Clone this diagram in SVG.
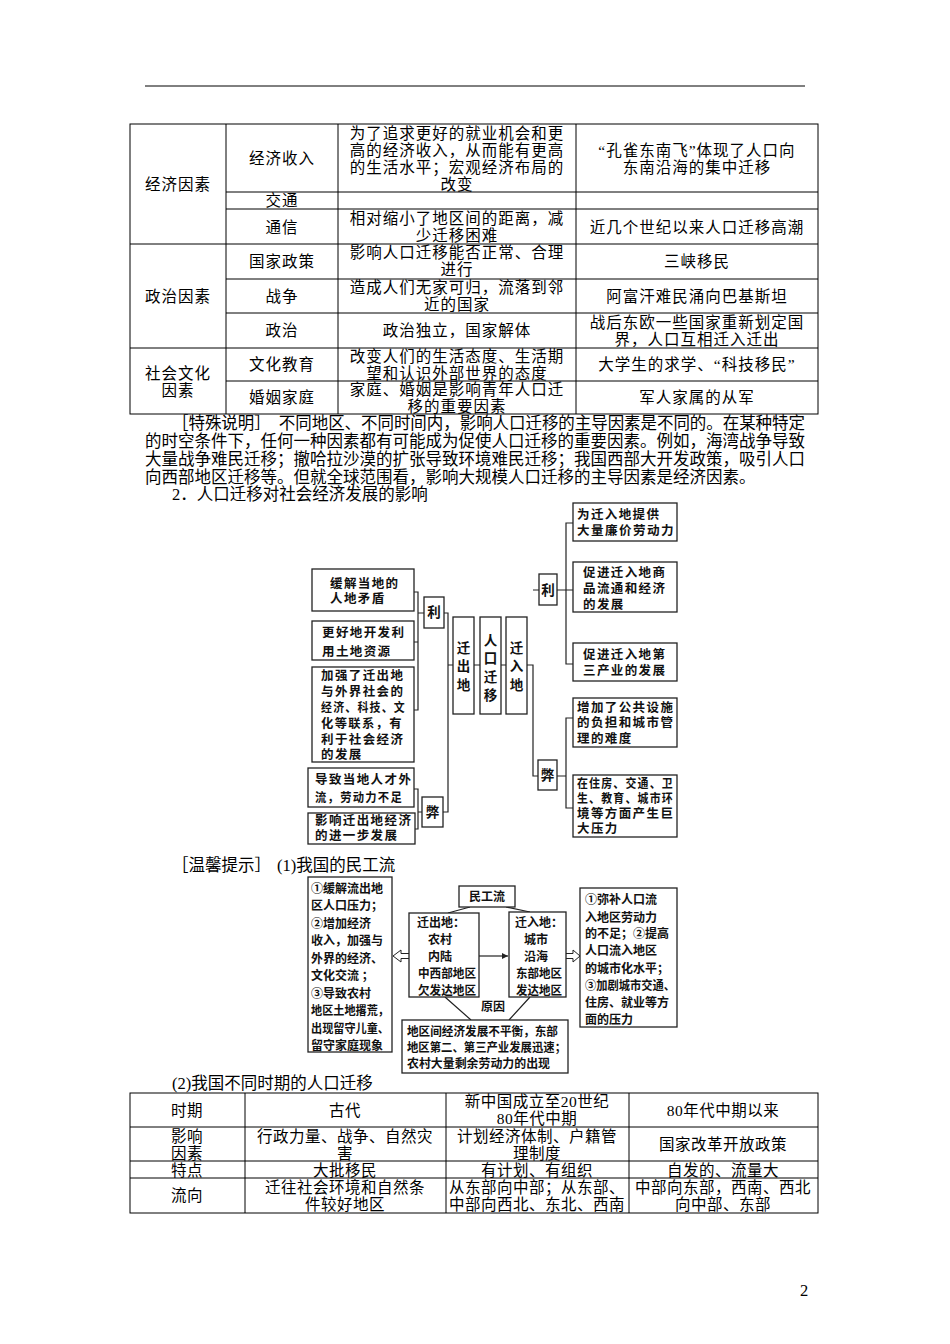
<svg xmlns="http://www.w3.org/2000/svg" width="950" height="1344" viewBox="0 0 950 1344">
<style>
.t{font-family:"Liberation Serif","Noto Sans CJK SC",serif;font-size:15.5px;letter-spacing:1px;fill:#000}
.p{font-family:"Liberation Serif","Noto Sans CJK SC",serif;font-size:16.5px;fill:#000}
.t2{font-family:"Liberation Serif","Noto Sans CJK SC",serif;font-size:15.5px;letter-spacing:0.5px;fill:#000}
.c{text-anchor:middle}
.b{font-family:"Noto Sans CJK SC",sans-serif;font-weight:bold;font-size:12.5px;letter-spacing:1.4px;fill:#111}
.bc{font-family:"Noto Sans CJK SC",sans-serif;font-weight:bold;font-size:13.5px;fill:#111;text-anchor:middle}
.s{font-family:"Noto Sans CJK SC",sans-serif;font-weight:bold;font-size:12px;fill:#111}
.box{fill:#fff;stroke:#222;stroke-width:1.3}
.ln{stroke:#222;stroke-width:1.2;fill:none}
.tb{stroke:#000;stroke-width:1;fill:none}
</style>
<defs>
<marker id="ah" viewBox="0 0 10 10" refX="10" refY="5" markerWidth="7" markerHeight="6" orient="auto" markerUnits="userSpaceOnUse"><path d="M0,0 L10,5 L0,10 z" fill="#222"/></marker>
</defs>
<rect x="0" y="0" width="950" height="1344" fill="#fff"/>
<line x1="145" y1="86" x2="805" y2="86" stroke="#000" stroke-width="1"/>

<!-- Table 1 -->
<g id="table1">
<rect class="tb" x="130" y="124" width="688" height="290"/>
<line class="tb" x1="226" y1="124" x2="226" y2="414"/>
<line class="tb" x1="338" y1="124" x2="338" y2="414"/>
<line class="tb" x1="576" y1="124" x2="576" y2="414"/>
<line class="tb" x1="130" y1="244" x2="818" y2="244"/>
<line class="tb" x1="130" y1="348" x2="818" y2="348"/>
<line class="tb" x1="226" y1="192" x2="818" y2="192"/>
<line class="tb" x1="226" y1="209" x2="818" y2="209" stroke-width="1.5"/>
<line class="tb" x1="226" y1="279" x2="818" y2="279"/>
<line class="tb" x1="226" y1="313" x2="818" y2="313"/>
<line class="tb" x1="226" y1="381" x2="818" y2="381"/>
<text class="t c" x="178" y="190">经济因素</text>
<text class="t c" x="282" y="164">经济收入</text>
<text class="t c" x="457" y="139">为了追求更好的就业机会和更</text>
<text class="t c" x="457" y="156">高的经济收入，从而能有更高</text>
<text class="t c" x="457" y="173">的生活水平；宏观经济布局的</text>
<text class="t c" x="457" y="190">改变</text>
<text class="t c" x="697" y="156">“孔雀东南飞”体现了人口向</text>
<text class="t c" x="697" y="173">东南沿海的集中迁移</text>
<text class="t c" x="282" y="206">交通</text>
<text class="t c" x="282" y="233">通信</text>
<text class="t c" x="457" y="224">相对缩小了地区间的距离，减</text>
<text class="t c" x="457" y="241">少迁移困难</text>
<text class="t c" x="697" y="233">近几个世纪以来人口迁移高潮</text>
<text class="t c" x="178" y="302">政治因素</text>
<text class="t c" x="282" y="267">国家政策</text>
<text class="t c" x="457" y="258">影响人口迁移能否正常、合理</text>
<text class="t c" x="457" y="275">进行</text>
<text class="t c" x="697" y="267">三峡移民</text>
<text class="t c" x="282" y="302">战争</text>
<text class="t c" x="457" y="293">造成人们无家可归，流落到邻</text>
<text class="t c" x="457" y="310">近的国家</text>
<text class="t c" x="697" y="302">阿富汗难民涌向巴基斯坦</text>
<text class="t c" x="282" y="336">政治</text>
<text class="t c" x="457" y="336">政治独立，国家解体</text>
<text class="t c" x="697" y="328">战后东欧一些国家重新划定国</text>
<text class="t c" x="697" y="345">界，人口互相迁入迁出</text>
<text class="t c" x="178" y="379">社会文化</text>
<text class="t c" x="178" y="396">因素</text>
<text class="t c" x="282" y="370">文化教育</text>
<text class="t c" x="457" y="362">改变人们的生活态度、生活期</text>
<text class="t c" x="457" y="379">望和认识外部世界的态度</text>
<text class="t c" x="697" y="370">大学生的求学、“科技移民”</text>
<text class="t c" x="282" y="403">婚姻家庭</text>
<text class="t c" x="457" y="395">家庭、婚姻是影响青年人口迁</text>
<text class="t c" x="457" y="412">移的重要因素</text>
<text class="t c" x="697" y="403">军人家属的从军</text>
</g>

<!-- Paragraph -->
<g id="paragraph">
<text class="p" x="172" y="429" textLength="633" lengthAdjust="spacing">［特殊说明］　不同地区、不同时间内，影响人口迁移的主导因素是不同的。在某种特定</text>
<text class="p" x="145" y="447" textLength="660" lengthAdjust="spacing">的时空条件下，任何一种因素都有可能成为促使人口迁移的重要因素。例如，海湾战争导致</text>
<text class="p" x="145" y="465" textLength="660" lengthAdjust="spacing">大量战争难民迁移；撤哈拉沙漠的扩张导致环境难民迁移；我国西部大开发政策，吸引人口</text>
<text class="p" x="145" y="483">向西部地区迁移等。但就全球范围看，影响大规模人口迁移的主导因素是经济因素。</text>
<text class="p" x="172" y="500">2．人口迁移对社会经济发展的影响</text>
</g>

<!-- Diagram 1 connectors -->
<g id="connectors1">
<path class="ln" d="M414,592 H418 V710 H414 M414,642 H418 M418,613 H424"/>
<path class="ln" d="M444,613 H448 V812 H443 M448,665 H453"/>
<path class="ln" d="M414,789 H418 V829 H415 M418,812 H422"/>
<path class="ln" d="M474,665 H480 M501,665 H506"/>
<path class="ln" d="M527,665 H533 V776 H538 M533,590 H539"/>
<path class="ln" d="M573,523 H566 V664 H573 M557,590 H573"/>
<path class="ln" d="M573,718 H566 V808 H573 M557,776 H566"/>
</g>

<!-- Diagram 1 nodes -->
<g id="n-huanjie">
<rect class="box" x="312" y="569" width="102" height="42"/>
<text class="b" x="330" y="588">缓解当地的</text>
<text class="b" x="330" y="603">人地矛盾</text>
</g>
<g id="n-genghao">
<rect class="box" x="312" y="621" width="102" height="39"/>
<text class="b" x="322" y="637">更好地开发利</text>
<text class="b" x="322" y="656">用土地资源</text>
</g>
<g id="n-jiaqiang">
<rect class="box" x="312" y="667" width="102" height="95"/>
<text class="b" x="321" y="680">加强了迁出地</text>
<text class="b" x="321" y="696">与外界社会的</text>
<text class="b" x="321" y="712" textLength="85" lengthAdjust="spacingAndGlyphs">经济、科技、文</text>
<text class="b" x="321" y="728" textLength="82" lengthAdjust="spacingAndGlyphs">化等联系，有</text>
<text class="b" x="321" y="744">利于社会经济</text>
<text class="b" x="321" y="759">的发展</text>
</g>
<g id="n-daozhi">
<rect class="box" x="308" y="768" width="106" height="39"/>
<text class="b" x="315" y="784">导致当地人才外</text>
<text class="b" x="315" y="802" textLength="88" lengthAdjust="spacingAndGlyphs">流，劳动力不足</text>
</g>
<g id="n-yingxiang">
<rect class="box" x="308" y="813" width="107" height="31"/>
<text class="b" x="315" y="825">影响迁出地经济</text>
<text class="b" x="315" y="840">的进一步发展</text>
</g>
<g id="n-li-left">
<rect class="box" x="424" y="597" width="20" height="31"/>
<text class="bc" x="434" y="617">利</text>
</g>
<g id="n-bi-left">
<rect class="box" x="422" y="797" width="21" height="30"/>
<text class="bc" x="432.5" y="817">弊</text>
</g>
<g id="n-qianchu">
<rect class="box" x="453" y="617" width="21" height="97"/>
<text class="bc" x="463.5" y="653">迁</text>
<text class="bc" x="463.5" y="671">出</text>
<text class="bc" x="463.5" y="690">地</text>
</g>
<g id="n-renkou">
<rect class="box" x="480" y="617" width="21" height="97"/>
<text class="bc" x="490.5" y="645">人</text>
<text class="bc" x="490.5" y="663">口</text>
<text class="bc" x="490.5" y="682">迁</text>
<text class="bc" x="490.5" y="700">移</text>
</g>
<g id="n-qianru">
<rect class="box" x="506" y="617" width="21" height="97"/>
<text class="bc" x="516.5" y="653">迁</text>
<text class="bc" x="516.5" y="671">入</text>
<text class="bc" x="516.5" y="690">地</text>
</g>
<g id="n-li-right">
<rect class="box" x="539" y="574" width="18" height="31"/>
<text class="bc" x="548" y="595">利</text>
</g>
<g id="n-bi-right">
<rect class="box" x="538" y="760" width="19" height="30"/>
<text class="bc" x="547.5" y="780">弊</text>
</g>
<g id="n-r1">
<rect class="box" x="573" y="503" width="104" height="38"/>
<text class="b" x="577" y="519">为迁入地提供</text>
<text class="b" x="577" y="535" textLength="98" lengthAdjust="spacingAndGlyphs">大量廉价劳动力</text>
</g>
<g id="n-r2">
<rect class="box" x="573" y="562" width="104" height="50"/>
<text class="b" x="583" y="577">促进迁入地商</text>
<text class="b" x="583" y="593">品流通和经济</text>
<text class="b" x="583" y="609">的发展</text>
</g>
<g id="n-r3">
<rect class="box" x="573" y="643" width="104" height="38"/>
<text class="b" x="583" y="659">促进迁入地第</text>
<text class="b" x="583" y="675">三产业的发展</text>
</g>
<g id="n-r4">
<rect class="box" x="573" y="698" width="104" height="49"/>
<text class="b" x="577" y="712">增加了公共设施</text>
<text class="b" x="577" y="727">的负担和城市管</text>
<text class="b" x="577" y="743">理的难度</text>
</g>
<g id="n-r5">
<rect class="box" x="573" y="775" width="104" height="62"/>
<text class="b" x="577" y="788" textLength="97" lengthAdjust="spacingAndGlyphs">在住房、交通、卫</text>
<text class="b" x="577" y="803" textLength="97" lengthAdjust="spacingAndGlyphs">生、教育、城市环</text>
<text class="b" x="577" y="818">境等方面产生巨</text>
<text class="b" x="577" y="833">大压力</text>
</g>

<!-- Diagram 2 -->
<text class="p" x="172" y="871" font-size="17">［温馨提示］<tspan x="277">(1)我国的民工流</tspan></text>

<g id="connectors2">
<path class="ln" d="M470,907 L448,913 M506,907 L530,912"/>
<path class="ln" d="M445,997 L471,1020 M530,997 L509,1020"/>
<line class="ln" x1="479" y1="956" x2="508" y2="956" marker-end="url(#ah)"/>
<path d="M409,953.5 H401 V950 L393,956 L401,962 V958.5 H409" fill="#fff" stroke="#222" stroke-width="1"/>
<path d="M566,953.5 H573 V950 L580,956 L573,962 V958.5 H566" fill="#fff" stroke="#222" stroke-width="1"/>
</g>

<g id="m-left">
<rect class="box" x="308" y="877" width="84" height="175"/>
<text class="s" x="311" y="893">①缓解流出地</text>
<text class="s" x="311" y="910">区人口压力；</text>
<text class="s" x="311" y="928">②增加经济</text>
<text class="s" x="311" y="945">收入，加强与</text>
<text class="s" x="311" y="963">外界的经济、</text>
<text class="s" x="311" y="980">文化交流 ；</text>
<text class="s" x="311" y="998">③导致农村</text>
<text class="s" x="311" y="1015" textLength="78" lengthAdjust="spacingAndGlyphs">地区土地撂荒，</text>
<text class="s" x="311" y="1033" textLength="78" lengthAdjust="spacingAndGlyphs">出现留守儿童、</text>
<text class="s" x="311" y="1050">留守家庭现象</text>
</g>
<g id="m-mingong">
<rect class="box" x="459" y="886" width="56" height="21"/>
<text class="s" x="487" y="901" text-anchor="middle">民工流</text>
</g>
<g id="m-qianchu">
<rect class="box" x="409" y="913" width="70" height="84"/>
<text class="s" x="417" y="927">迁出地：</text>
<text class="s" x="440" y="944" text-anchor="middle">农村</text>
<text class="s" x="440" y="961" text-anchor="middle">内陆</text>
<text class="s" x="418" y="978" textLength="58" lengthAdjust="spacingAndGlyphs">中西部地区</text>
<text class="s" x="418" y="995" textLength="58" lengthAdjust="spacingAndGlyphs">欠发达地区</text>
</g>
<g id="m-qianru">
<rect class="box" x="509" y="912" width="57" height="85"/>
<text class="s" x="515" y="927">迁入地：</text>
<text class="s" x="536" y="944" text-anchor="middle">城市</text>
<text class="s" x="536" y="961" text-anchor="middle">沿海</text>
<text class="s" x="516" y="978" textLength="46" lengthAdjust="spacingAndGlyphs">东部地区</text>
<text class="s" x="516" y="995" textLength="46" lengthAdjust="spacingAndGlyphs">发达地区</text>
</g>
<g id="m-right">
<rect class="box" x="580" y="888" width="97" height="139"/>
<text class="s" x="585" y="904">①弥补人口流</text>
<text class="s" x="585" y="922">入地区劳动力</text>
<text class="s" x="585" y="938">的不足；②提高</text>
<text class="s" x="585" y="955">人口流入地区</text>
<text class="s" x="585" y="973">的城市化水平；</text>
<text class="s" x="585" y="990" textLength="90" lengthAdjust="spacingAndGlyphs">③加剧城市交通、</text>
<text class="s" x="585" y="1007">住房、就业等方</text>
<text class="s" x="585" y="1024">面的压力</text>
</g>
<g id="m-yuanyin">
<text class="s" x="493" y="1011" text-anchor="middle">原因</text>
</g>
<g id="m-bottom">
<rect class="box" x="402" y="1020" width="166" height="53"/>
<text class="s" x="407" y="1036" textLength="151" lengthAdjust="spacingAndGlyphs">地区间经济发展不平衡，东部</text>
<text class="s" x="407" y="1052" textLength="159" lengthAdjust="spacingAndGlyphs">地区第二、第三产业发展迅速；</text>
<text class="s" x="407" y="1068" textLength="143" lengthAdjust="spacingAndGlyphs">农村大量剩余劳动力的出现</text>
</g>

<!-- Table 2 -->
<text class="p" x="172" y="1089" font-size="16">(2)我国不同时期的人口迁移</text>
<g id="table2">
<rect class="tb" x="130" y="1093" width="688" height="120"/>
<line class="tb" x1="245" y1="1093" x2="245" y2="1213"/>
<line class="tb" x1="446" y1="1093" x2="446" y2="1213"/>
<line class="tb" x1="629" y1="1093" x2="629" y2="1213"/>
<line class="tb" x1="130" y1="1127" x2="818" y2="1127"/>
<line class="tb" x1="130" y1="1161" x2="818" y2="1161"/>
<line class="tb" x1="130" y1="1178" x2="818" y2="1178"/>
<text class="t2 c" x="187" y="1116">时期</text>
<text class="t2 c" x="345" y="1116">古代</text>
<text class="t2 c" x="537" y="1107">新中国成立至20世纪</text>
<text class="t2 c" x="537" y="1124">80年代中期</text>
<text class="t2 c" x="723" y="1116">80年代中期以来</text>
<text class="t2 c" x="187" y="1142">影响</text>
<text class="t2 c" x="187" y="1159">因素</text>
<text class="t2 c" x="345" y="1142">行政力量、战争、自然灾</text>
<text class="t2 c" x="345" y="1159">害</text>
<text class="t2 c" x="537" y="1142">计划经济体制、户籍管</text>
<text class="t2 c" x="537" y="1159">理制度</text>
<text class="t2 c" x="723" y="1150">国家改革开放政策</text>
<text class="t2 c" x="187" y="1176">特点</text>
<text class="t2 c" x="345" y="1176">大批移民</text>
<text class="t2 c" x="537" y="1176">有计划、有组织</text>
<text class="t2 c" x="723" y="1176">自发的、流量大</text>
<text class="t2 c" x="187" y="1201">流向</text>
<text class="t2 c" x="345" y="1193">迁往社会环境和自然条</text>
<text class="t2 c" x="345" y="1210">件较好地区</text>
<text class="t2 c" x="537" y="1193">从东部向中部；从东部、</text>
<text class="t2 c" x="537" y="1210">中部向西北、东北、西南</text>
<text class="t2 c" x="723" y="1193">中部向东部，西南、西北</text>
<text class="t2 c" x="723" y="1210">向中部、东部</text>
</g>

<text class="p" x="800" y="1296" font-size="14">2</text>
</svg>
